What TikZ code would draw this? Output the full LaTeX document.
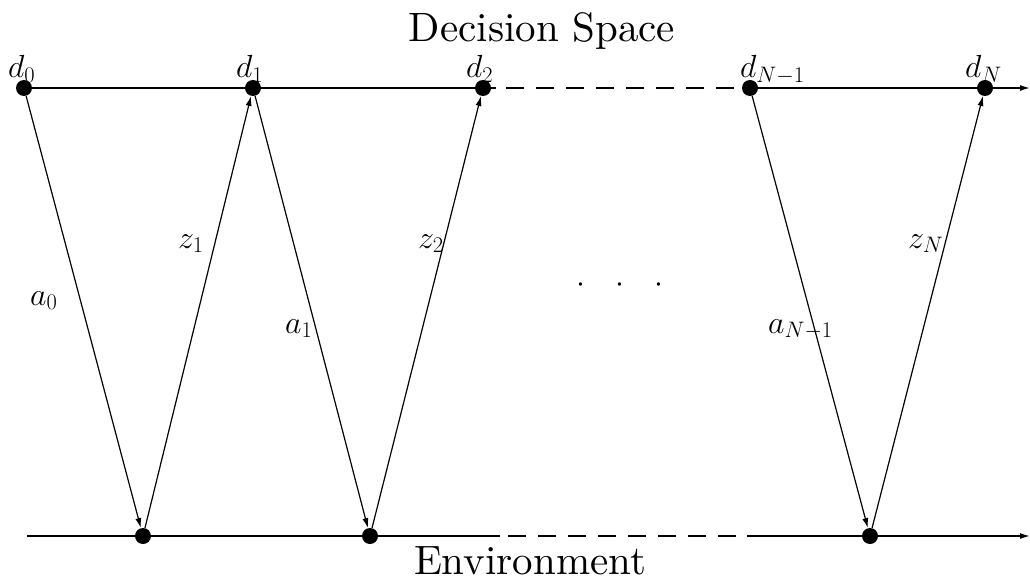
\RequirePackage{fix-cm}
\documentclass[tikz,border=0pt]{standalone}
\usepackage{fontspec}
\newfontfamily\tenrm{lmroman10-regular}[Extension=.otf]
\usetikzlibrary{arrows.meta}
\begin{document}
\begin{tikzpicture}[x=1pt,y=-1pt,
  dotnode/.style={circle,fill=black,inner sep=0pt,minimum size=16pt},
  conn/.style={line width=1.2pt,-{Latex[length=10pt,width=6pt]}},
  hconn/.style={line width=1.5pt,-{Latex[length=10pt,width=6pt]}},
  hline/.style={line width=1.5pt},
  dashline/.style={line width=1.5pt,dash pattern=on 18pt off 12pt},
  mlabel/.style={inner sep=0pt,font=\fontsize{32}{38}\selectfont},
  title/.style={inner sep=0pt,font=\tenrm\fontsize{41}{48}\selectfont}]
\useasboundingbox (0,0) rectangle (1030,580);
% dots
\node[dotnode] (d0) at (24,88) {};
\node[dotnode] (d1) at (253,88) {};
\node[dotnode] (d2) at (483,88) {};
\node[dotnode] (dn1) at (750,88) {};
\node[dotnode] (dn) at (985,88) {};
\node[dotnode] (e0) at (143,536) {};
\node[dotnode] (e1) at (370,536) {};
\node[dotnode] (en) at (870,536) {};
% line coordinates
\coordinate (t1) at (496,88);
\coordinate (t2) at (506,88);
\coordinate (tend) at (1030,88);
\coordinate (b0) at (27,536);
\coordinate (b1) at (500,536);
\coordinate (b2) at (508,536);
\coordinate (b3) at (736,536);
\coordinate (b4) at (747,536);
\coordinate (bend) at (1030,536);
% horizontal lines
\draw[hline] (d0.center) -- (t1);
\draw[dashline] (t2) -- (dn1.center);
\draw[hconn] (dn1.center) -- (tend);
\draw[hline] (b0) -- (b1);
\draw[dashline] (b2) -- (b3);
\draw[hconn] (b4) -- (bend);
% slanted connectors
\draw[conn] (d0) -- (e0);
\draw[conn] (e0) -- (d1);
\draw[conn] (d1) -- (e1);
\draw[conn] (e1) -- (d2);
\draw[conn] (dn1) -- (en);
\draw[conn] (en) -- (dn);
% labels
\node[mlabel,anchor=base west] (ld0) at (8,78) {$d_0$};
\node[mlabel,anchor=base west] (ld1) at (236,78) {$d_1$};
\node[mlabel,anchor=base west] (ld2) at (466,78) {$d_2$};
\node[mlabel,anchor=base west] (ldn1) at (740,78) {$d_{N-1}$};
\node[mlabel,anchor=base west] (ldn) at (965,78) {$d_N$};
\node[mlabel,anchor=base west] (la0) at (30,305) {$a_0$};
\node[mlabel,anchor=base west] (lz1) at (178,248) {$z_1$};
\node[mlabel,anchor=base west] (la1) at (285,333) {$a_1$};
\node[mlabel,anchor=base west] (lz2) at (418,248) {$z_2$};
\node[mlabel,anchor=base west] (lan1) at (768,333) {$a_{N-1}$};
\node[mlabel,anchor=base west] (lzn) at (908,248) {$z_N$};
\node[mlabel,anchor=base] (dots) at (620,292) {$\cdot$\hspace{30pt}$\cdot$\hspace{30pt}$\cdot$};
\node[title,anchor=base] (ds) at (542,42) {Decision Space};
\node[title,anchor=base] (env) at (530,574) {Environment};
\end{tikzpicture}
\end{document}
